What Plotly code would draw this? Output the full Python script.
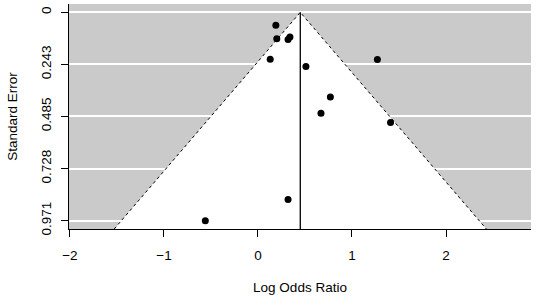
import plotly.graph_objects as go

# Data
log_odds = [0.19, 0.20, 0.32, 0.34, 0.13, 0.51, 1.27, 0.77, 0.67, 1.41, 0.32, -0.56]
std_err = [0.060, 0.123, 0.127, 0.115, 0.219, 0.252, 0.220, 0.395, 0.470, 0.513, 0.872, 0.971]
pooled_estimate = 0.45
x_tick_vals = [-2, -1, 0, 1, 2]
y_tick_vals = [0, 0.243, 0.485, 0.728, 0.971]
y_tick_text = ["0", "0.243", "0.485", "0.728", "0.971"]

se_max = max(std_err)
y_lo = -0.04 * se_max
y_hi = se_max * 1.04
z = 1.96

left_bottom = pooled_estimate - z * y_hi
right_bottom = pooled_estimate + z * y_hi

fig = go.Figure()

# White funnel region
fig.add_trace(go.Scatter(
    x=[left_bottom, pooled_estimate, right_bottom, left_bottom],
    y=[y_hi, 0, y_hi, y_hi],
    mode="lines", fill="toself", fillcolor="white",
    line=dict(width=0), hoverinfo="skip", showlegend=False))

# Dotted funnel lines
fig.add_trace(go.Scatter(
    x=[left_bottom, pooled_estimate, right_bottom],
    y=[y_hi, 0, y_hi],
    mode="lines", line=dict(color="black", width=1, dash="dot"),
    hoverinfo="skip", showlegend=False))

# Vertical line at pooled estimate
fig.add_trace(go.Scatter(
    x=[pooled_estimate, pooled_estimate],
    y=[0, y_hi],
    mode="lines", line=dict(color="black", width=1.3),
    hoverinfo="skip", showlegend=False))

# Study points
fig.add_trace(go.Scatter(
    x=log_odds, y=std_err, mode="markers",
    marker=dict(color="black", size=7),
    showlegend=False))

font = dict(family="Liberation Sans, Arial, sans-serif", size=13.5, color="black")

fig.update_layout(
    width=536, height=302,
    margin=dict(l=69, r=5, t=4, b=73, pad=0),
    paper_bgcolor="white",
    plot_bgcolor="#cacaca",
    font=font,
    showlegend=False,
)

fig.update_xaxes(
    range=[-2.01, 2.904],
    tickvals=x_tick_vals,
    ticks="outside", ticklen=7, tickcolor="black", tickwidth=1,
    showgrid=False, zeroline=False,
    showline=True, linecolor="black", linewidth=1.2,
    ticklabelstandoff=7,
    automargin=False,
    title=dict(text="Log Odds Ratio", standoff=20, font=font),
)

fig.update_yaxes(
    range=[y_hi, y_lo],
    tickvals=y_tick_vals, ticktext=y_tick_text,
    tickangle=-90,
    ticks="outside", ticklen=7, tickcolor="black", tickwidth=1,
    showgrid=True, gridcolor="white", gridwidth=1.5,
    zeroline=False,
    showline=True, linecolor="black", linewidth=1.2,
    ticklabelstandoff=5,
    automargin=False,
    title=dict(text="Standard Error", standoff=17, font=font),
)

fig.write_html("out.html", config={"displayModeBar": False},
               post_script="document.body.style.margin='0';")
